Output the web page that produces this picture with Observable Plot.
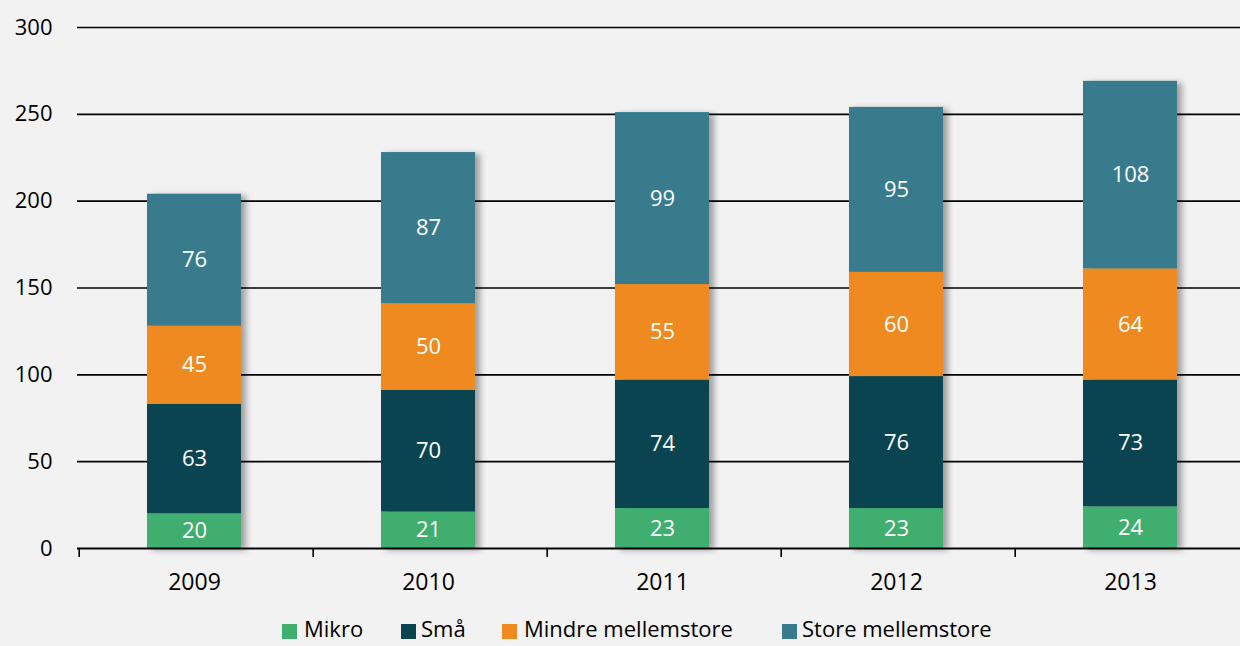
<!DOCTYPE html>
<html>
<head>
<meta charset="utf-8">
<script src="https://cdn.jsdelivr.net/npm/d3@7"></script>
<script src="https://cdn.jsdelivr.net/npm/@observablehq/plot@0.6"></script>
<style>
  html, body { margin: 0; padding: 0; background: #f2f2f2; overflow: hidden; }
  #wrap { position: relative; width: 1240px; height: 646px; overflow: hidden; background: #f2f2f2; }
  #chart { position: absolute; left: 0; top: 0; }
  .legend-item { position: absolute; font-family: "Open Sans", sans-serif; font-size: 22px; line-height: 22px; color: #000; white-space: nowrap; }
  .legend-sw { position: absolute; width: 15px; height: 15px; }
</style>
</head>
<body>
<div id="wrap">
  <div id="chart"></div>
  <div id="legend"></div>
</div>
<script>
const years = ["2009", "2010", "2011", "2012", "2013"];
const series = ["Mikro", "Små", "Mindre mellemstore", "Store mellemstore"];
const colors = ["#3fae6e", "#0b4451", "#ee8a1f", "#387b8c"];
const mikro  = [20, 21, 23, 23, 24];
const smaa   = [63, 70, 74, 76, 73];
const mindre = [45, 50, 55, 60, 64];
const store  = [76, 87, 99, 95, 108];
const yTicks = [0, 50, 100, 150, 200, 250, 300];

const valuesBySeries = [mikro, smaa, mindre, store];
const data = [];
years.forEach((yr, i) => {
  series.forEach((s, j) => {
    data.push({ year: yr, series: s, value: valuesBySeries[j][i] });
  });
});

const W = 1240;
const mRight = -10;
const step = (W - mRight - 77) / years.length;

const chart = Plot.plot({
  width: W,
  height: 610,
  marginLeft: 77,
  marginRight: mRight,
  marginTop: 27,
  marginBottom: 62,
  style: { background: "transparent", fontFamily: "Open Sans, sans-serif" },
  x: { domain: years, paddingInner: 0.6, paddingOuter: 0.3, label: null },
  y: { domain: [0, 300], label: null },
  color: { domain: series, range: colors },
  marks: [
    Plot.ruleY(yTicks.filter(d => d > 0), { stroke: "#000", strokeWidth: 1.7 }),
    Plot.barY(data, Plot.stackY({ x: "year", y: "value", z: "series", fill: "series", order: series, dx: -2 })),
    Plot.ruleY([0], { stroke: "#000", strokeWidth: 2 }),
    Plot.ruleX(years, { x: d => d, y1: 0, y2: -5.2, dx: -step / 2, stroke: "#000", strokeWidth: 1.6 }),
    Plot.text(data, Plot.stackY({ x: "year", y: "value", z: "series", text: d => String(d.value), order: series, fill: "white", fontSize: 22, dx: -2 })),
    Plot.axisY({ ticks: yTicks, tickSize: 0, tickPadding: 25, fontSize: 22, tickFormat: d => String(d), label: null }),
    Plot.axisX({ tickSize: 0, tickPadding: 25, fontSize: 23, label: null, dx: -2 })
  ]
});
d3.select(chart).selectAll('g[aria-label="bar"]').style("filter", "drop-shadow(5px 2px 3px rgba(0,0,0,0.35))");
d3.select(chart).selectAll('g[aria-label="y-axis tick label"], g[aria-label="x-axis tick label"]').attr("fill", "#000");
document.getElementById("chart").appendChild(chart);

// Legend
const legendPos = [
  { sw: 282, tx: 304 },
  { sw: 401, tx: 421 },
  { sw: 502, tx: 524 },
  { sw: 782, tx: 802 }
];
const legend = document.getElementById("legend");
series.forEach((s, i) => {
  const sw = document.createElement("div");
  sw.className = "legend-sw";
  sw.style.left = legendPos[i].sw + "px";
  sw.style.top = "624px";
  sw.style.background = colors[i];
  legend.appendChild(sw);
  const t = document.createElement("div");
  t.className = "legend-item";
  t.style.left = legendPos[i].tx + "px";
  t.style.top = "617px";
  t.textContent = s;
  legend.appendChild(t);
});
</script>
</body>
</html>
